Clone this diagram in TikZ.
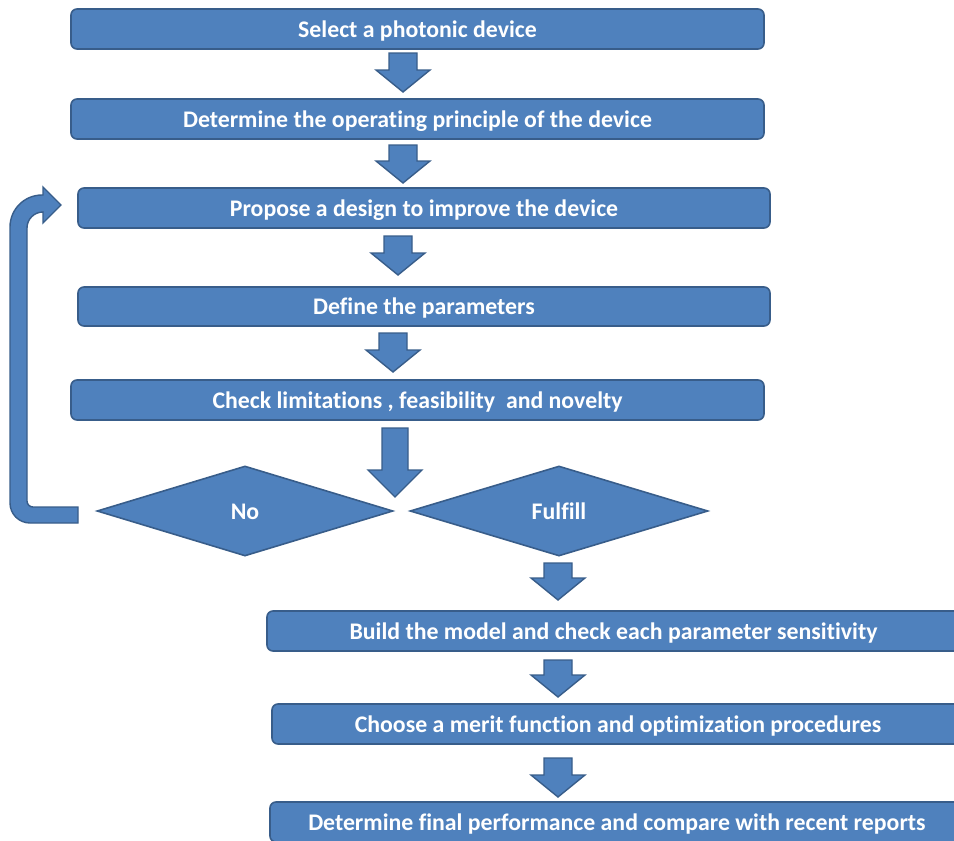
\documentclass[tikz,border=0pt]{standalone}
\usepackage{fontspec}
\setmainfont{Carlito}[Ligatures=NoCommon]
\usetikzlibrary{shapes.geometric}
\definecolor{blu}{HTML}{4F81BD}
\definecolor{bdr}{HTML}{385D8A}
% block arrow: x, top, bottom, shaft half width, head length
\def\BA#1#2#3#4#5{\filldraw[blockarrow] (#1-#4,#2) -- (#1+#4,#2) -- (#1+#4,#3-#5) -- (#1+27,#3-#5) -- (#1,#3) -- (#1-27,#3-#5) -- (#1-#4,#3-#5) -- cycle;}
\tikzset{
  stepbox/.style={draw=bdr,fill=blu,line width=1.6pt,rounded corners=6pt,minimum height=40pt,
    inner sep=0pt,text height=18pt,text depth=2pt,text=white,font=\fontsize{23.8}{28}\selectfont\bfseries},
  choice/.style={diamond,draw=bdr,fill=blu,line width=1.6pt,aspect=3.3,inner sep=0pt,
    minimum width=296pt,minimum height=90pt,text height=18pt,text depth=2pt,text=white,
    font=\fontsize{23.8}{28}\selectfont\bfseries},
  blockarrow/.style={draw=bdr,fill=blu,line width=1.4pt,line join=miter}
}
\begin{document}
\begin{tikzpicture}[x=1pt,y=-1pt]
\clip (0,0) rectangle (954,841);
\useasboundingbox (0,0) rectangle (954,841);
\node[stepbox,minimum width=693pt] (b1) at (417.5,29) {Select a photonic device};
\node[stepbox,minimum width=693pt] (b2) at (417.5,119) {Determine the operating principle of the device};
\node[stepbox,minimum width=692pt] (b3) at (424,208) {Propose a design to improve the device};
\node[stepbox,minimum width=692pt,minimum height=39pt] (b4) at (424,306.5) {Define the parameters};
\node[stepbox,minimum width=693pt] (b5) at (417.5,400) {Check limitations , feasibility\ \ and novelty};
\node[choice] (no) at (245,511) {No};
\node[choice,minimum width=298pt] (ok) at (559,511) {Fulfill};
\node[stepbox,minimum width=693pt] (b6) at (613.5,631) {Build the model and check each parameter sensitivity};
\node[stepbox,minimum width=692pt] (b7) at (618,724) {Choose a merit function and optimization procedures};
\node[stepbox,minimum width=694pt] (b8) at (617,822) {Determine final performance and compare with recent reports};
\BA{403}{53}{92}{14}{22}
\BA{403}{145}{183}{14}{22}
\BA{398}{236}{275}{14}{22}
\BA{393}{333}{372}{14}{22}
\BA{395}{428}{497}{13}{27}
\BA{558}{563}{600}{14}{22}
\BA{558}{660}{697}{14}{22}
\BA{558}{758}{797}{14}{22}
% loop back to the design step
\filldraw[blockarrow] (78,523) [rounded corners=20pt] -- (10,523) [rounded corners=32pt] -- (10,195)
  [sharp corners] -- (43,195) -- (43,187) -- (61,205) -- (43,223) -- (43,212)
  [rounded corners=16pt] -- (27,212) [rounded corners=6pt] -- (27,507) [sharp corners] -- (78,507) -- cycle;
\end{tikzpicture}
\end{document}
